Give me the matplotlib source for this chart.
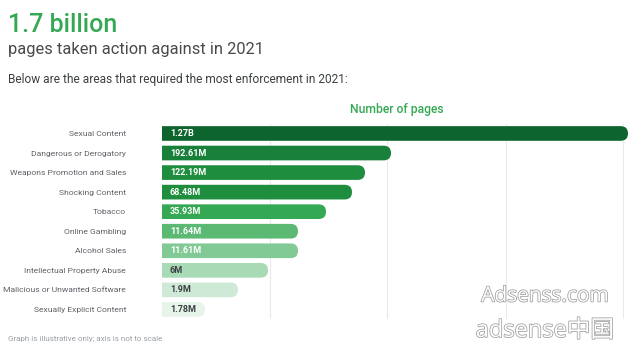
import matplotlib.pyplot as plt
from matplotlib.patches import FancyBboxPatch
import matplotlib.patheffects as pe

plt.rcParams['font.family'] = ['Roboto', 'Noto Sans CJK SC', 'DejaVu Sans']

# data
categories = ['Sexual Content', 'Dangerous or Derogatory', 'Weapons Promotion and Sales',
              'Shocking Content', 'Tobacco', 'Online Gambling', 'Alcohol Sales',
              'Intellectual Property Abuse', 'Malicious or Unwanted Software',
              'Sexually Explicit Content']
value_labels = ['1.27B', '192.61M', '122.19M', '68.48M', '35.93M', '11.64M', '11.61M',
                '6M', '1.9M', '1.78M']
# graph is illustrative only: bar lengths are not to scale
bar_length = [466, 229, 203, 190, 164, 136, 136, 106, 76, 43]
grid_ticks = [108, 225, 344, 461]

colors = ['#0d652d', '#188038', '#1e8e3e', '#1e8e3e', '#34a853', '#5bb974', '#81c995',
          '#a8dab5', '#ceead6', '#e6f4ea']
text_colors = ['white'] * 7 + ['#3c4043'] * 3

fig = plt.figure(figsize=(6.4, 3.51), dpi=100)
ax = fig.add_axes([162 / 640, 1 - 319.2 / 351, 470 / 640, 195.5 / 351])

n = len(categories)
bar_h = 0.75
ax.set_xlim(0, 470)
ax.set_ylim(n - 0.5, -0.5)

# px per unit in y is ~19.55, in x is 1
aspect = 1 / 19.55
r = bar_h * 19.55 / 2
for i, (length, c) in enumerate(zip(bar_length, colors)):
    # start left of the axes so the clip gives a square left end
    ax.add_patch(FancyBboxPatch((-20, i - bar_h / 2), length + 20, bar_h,
                                boxstyle=f'round,pad=0,rounding_size={r}',
                                mutation_aspect=aspect, facecolor=c, edgecolor='none',
                                zorder=2))
    ax.text(8, i, value_labels[i], color=text_colors[i], fontsize=6.5,
            fontweight='bold', va='center', ha='left', zorder=3)

ax.set_yticks(range(n))
ax.set_yticklabels(categories, fontsize=6.1, color='#5f6368')
ax.tick_params(axis='y', length=0, pad=26)
ax.set_xticks(grid_ticks)
ax.tick_params(axis='x', length=0, labelbottom=False)
ax.grid(axis='x', color='#e8eaed', linewidth=0.8)
ax.set_axisbelow(True)
for s in ax.spines.values():
    s.set_visible(False)

fig.text(397 / 640, 1 - 109 / 351, 'Number of pages', color='#34a853', fontsize=8.7,
         fontweight='medium', ha='center', va='center')

fig.text(8 / 640, 1 - 32 / 351, '1.7 billion', color='#34a853', fontsize=18,
         fontweight='medium', ha='left', va='baseline')
fig.text(8 / 640, 1 - 54 / 351, 'pages taken action against in 2021', color='#4a4a4a',
         fontsize=11.9, ha='left', va='baseline')
fig.text(8 / 640, 1 - 83 / 351, 'Below are the areas that required the most enforcement in 2021:',
         color='#3c4043', fontsize=8.6, ha='left', va='baseline')
fig.text(8 / 640, 1 - 339 / 351, 'Graph is illustrative only; axis is not to scale',
         color='#9aa0a6', fontsize=5.8, ha='left', va='center')

outline = [pe.Stroke(linewidth=1.1, foreground='#9e9e9e'), pe.Normal()]
fig.text(545 / 640, 1 - 296 / 351, 'Adsenss.com', color='white', fontsize=15,
         family=['Open Sans', 'Noto Sans CJK SC'], ha='center', va='center',
         path_effects=outline)
fig.text(545 / 640, 1 - 331 / 351, 'adsense中国', color='white', fontsize=17,
         family=['Open Sans', 'Noto Sans CJK SC'], ha='center', va='center',
         path_effects=outline)

fig.savefig('out.png', dpi=100, facecolor='white')
